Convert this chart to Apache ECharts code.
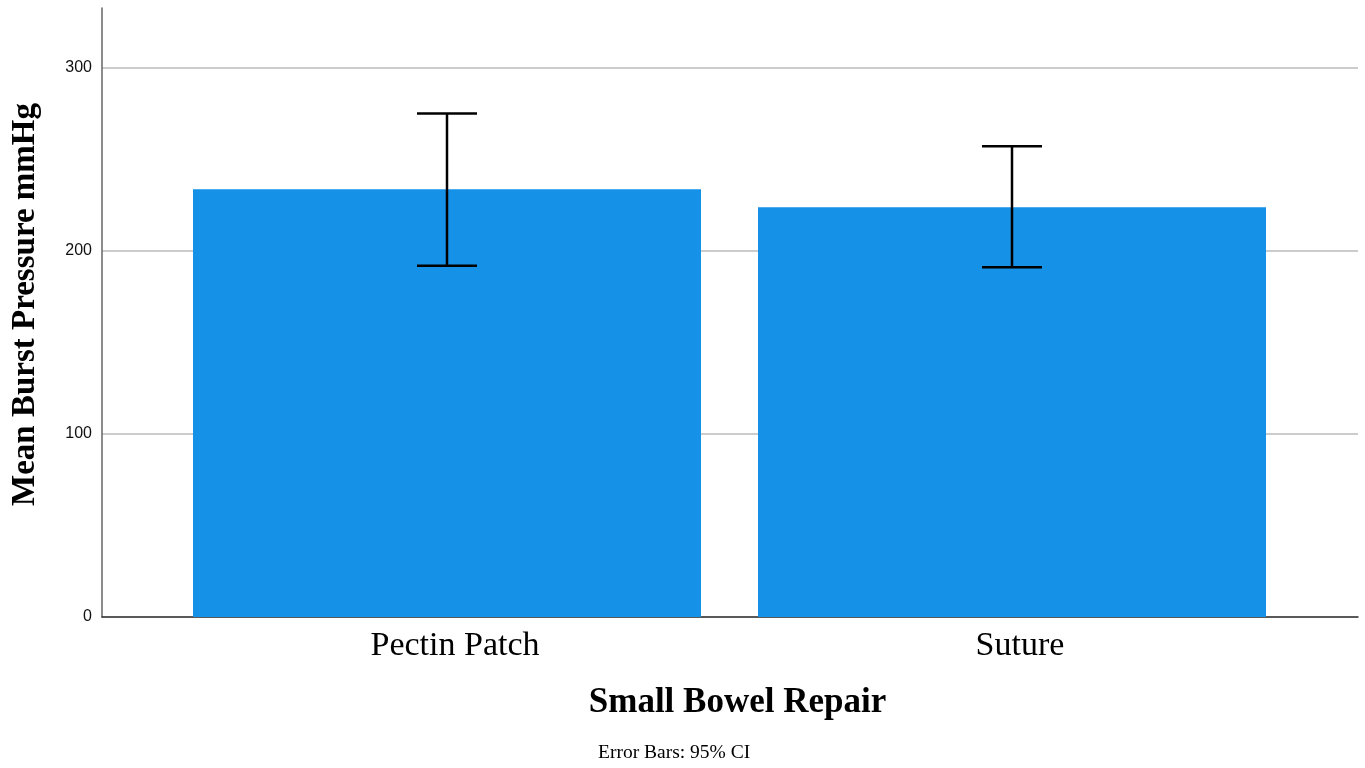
<!DOCTYPE html>
<html>
<head>
<meta charset="utf-8">
<script src="https://cdn.jsdelivr.net/npm/echarts@6/dist/echarts.min.js"></script>
<style>
  html, body { margin: 0; padding: 0; background: #fff; }
  #chart { width: 1365px; height: 768px; }
</style>
</head>
<body>
<div id="chart"></div>
<script>
// data
const categories = ["Pectin Patch", "Suture"];
const meanValues = [233.7, 223.9];
const ciLow = [192.0, 191.1];
const ciHigh = [275.2, 257.2];

const errData = [];
categories.forEach((c, i) => {
  errData.push([i, ciLow[i], ciHigh[i]]);
});

const serif = "'Liberation Serif', 'DejaVu Serif', serif";

const myChart = echarts.init(document.getElementById("chart"));

const option = {
  animation: false,
  grid: [
    // backdrop: axis lines and gridlines span the whole plot
    { left: 102, right: 7, top: 8, bottom: 151, outerBoundsMode: "none", containLabel: false },
    // bars
    { left: 164.5, right: 70.5, top: 8, bottom: 151, outerBoundsMode: "none", containLabel: false },
  ],
  xAxis: [
    {
      gridIndex: 0,
      type: "value",
      min: 0,
      max: 1,
      axisLine: { show: true, lineStyle: { color: "#333", width: 1.5 } },
      axisTick: { show: false },
      axisLabel: { show: false },
      splitLine: { show: false },
    },
    {
      gridIndex: 1,
      type: "category",
      data: categories,
      axisLine: { show: false },
      axisTick: { show: false },
      axisLabel: {
        color: "#000",
        fontFamily: serif,
        fontSize: 34,
        margin: 12,
        padding: [0, 0, 0, 16],
      },
      name: "Small Bowel Repair",
      nameLocation: "middle",
      nameGap: 68,
      nameTextStyle: {
        color: "#000",
        fontFamily: serif,
        fontSize: 35,
        fontWeight: "bold",
        padding: [0, 0, 0, 16],
      },
    },
  ],
  yAxis: [
    {
      gridIndex: 0,
      type: "value",
      min: 0,
      max: 332.8,
      interval: 100,
      axisLine: { show: true, lineStyle: { color: "#666", width: 1.5 } },
      axisTick: { show: false },
      axisLabel: {
        color: "#111",
        fontFamily: "'Liberation Sans', Arial, sans-serif",
        fontSize: 16,
        margin: 10,
        showMaxLabel: false,
      },
      splitLine: {
        show: true,
        showMaxLine: false,
        lineStyle: { color: "#bbb", width: 1.5 },
      },
      name: "Mean Burst Pressure mmHg",
      nameLocation: "middle",
      nameGap: 60,
      nameTextStyle: {
        color: "#000",
        fontFamily: serif,
        fontSize: 33,
        fontWeight: "bold",
        padding: [0, 0, 0, 16],
      },
    },
    {
      gridIndex: 1,
      type: "value",
      min: 0,
      max: 332.8,
      show: false,
    },
  ],
  series: [
    {
      type: "bar",
      xAxisIndex: 1,
      yAxisIndex: 1,
      data: meanValues,
      barWidth: 508,
      itemStyle: { color: "#1591E8" },
      z: 2,
    },
    {
      type: "custom",
      xAxisIndex: 1,
      yAxisIndex: 1,
      data: errData,
      z: 3,
      renderItem: function (params, api) {
        const x = api.value(0);
        const lo = api.coord([x, api.value(1)]);
        const hi = api.coord([x, api.value(2)]);
        const hw = 30;
        const style = { stroke: "#000", lineWidth: 2.5 };
        return {
          type: "group",
          children: [
            { type: "line", shape: { x1: hi[0], y1: hi[1], x2: lo[0], y2: lo[1] }, style: style },
            { type: "line", shape: { x1: hi[0] - hw, y1: hi[1], x2: hi[0] + hw, y2: hi[1] }, style: style },
            { type: "line", shape: { x1: lo[0] - hw, y1: lo[1], x2: lo[0] + hw, y2: lo[1] }, style: style },
          ],
        };
      },
    },
  ],
  graphic: [
    {
      type: "text",
      left: 598,
      top: 743,
      style: {
        text: "Error Bars: 95% CI",
        fill: "#000",
        font: "19.5px " + serif,
      },
    },
  ],
};

myChart.setOption(option);
</script>
</body>
</html>
